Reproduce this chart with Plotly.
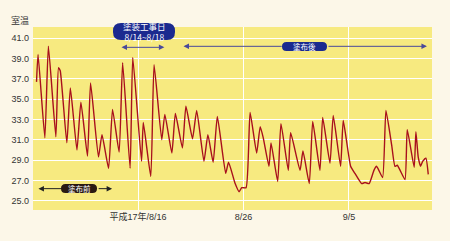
import plotly.graph_objects as go

# ---- data ----
times = [
    "2005-08-06 09:00", "2005-08-06 12:30", "2005-08-07 04:00", "2005-08-07 12:00",
    "2005-08-08 05:00", "2005-08-08 11:00", "2005-08-08 15:00", "2005-08-09 06:00",
    "2005-08-09 14:00", "2005-08-10 05:00", "2005-08-10 14:00", "2005-08-11 05:00",
    "2005-08-11 12:00", "2005-08-12 06:00", "2005-08-12 14:00", "2005-08-13 05:00",
    "2005-08-13 14:00", "2005-08-14 05:00", "2005-08-14 13:00", "2005-08-15 06:00",
    "2005-08-15 12:00", "2005-08-16 08:00", "2005-08-16 12:00", "2005-08-17 05:00",
    "2005-08-17 12:30", "2005-08-18 06:00", "2005-08-18 13:00", "2005-08-19 05:00",
    "2005-08-19 13:00", "2005-08-20 05:00", "2005-08-20 13:00", "2005-08-21 04:00",
    "2005-08-21 13:30", "2005-08-22 06:00", "2005-08-22 15:00", "2005-08-23 03:00",
    "2005-08-23 12:30", "2005-08-24 07:30", "2005-08-24 14:00", "2005-08-25 05:00",
    "2005-08-25 14:00", "2005-08-25 20:00", "2005-08-26 06:00", "2005-08-26 15:00",
    "2005-08-27 06:00", "2005-08-27 14:00", "2005-08-27 21:00", "2005-08-28 10:00",
    "2005-08-28 14:40", "2005-08-29 05:50", "2005-08-29 13:15", "2005-08-30 06:00",
    "2005-08-30 11:20", "2005-08-31 08:40", "2005-08-31 15:20", "2005-09-01 05:45",
    "2005-09-01 13:30", "2005-09-02 06:00", "2005-09-02 12:15", "2005-09-03 04:50",
    "2005-09-03 12:15", "2005-09-04 05:00", "2005-09-04 11:00", "2005-09-05 03:50",
    "2005-09-05 13:40", "2005-09-06 04:50", "2005-09-06 12:30", "2005-09-06 22:00",
    "2005-09-07 08:50", "2005-09-07 14:50", "2005-09-08 04:36", "2005-09-08 12:10",
    "2005-09-09 01:10", "2005-09-09 08:40", "2005-09-09 14:00", "2005-09-10 07:30",
    "2005-09-10 12:40", "2005-09-11 04:30", "2005-09-11 08:20", "2005-09-11 13:40",
    "2005-09-11 19:00", "2005-09-12 00:00", "2005-09-12 07:10", "2005-09-12 12:30",
]
temps = [
    36.7, 39.4, 31.2, 40.2,
    31.3, 38.1, 37.8, 30.7,
    36.1, 30.0, 34.7, 29.4,
    36.6, 29.3, 31.5, 28.2,
    34.0, 29.8, 38.6, 28.2,
    39.1, 28.9, 32.7, 27.4,
    38.4, 31.0, 33.5, 29.7,
    33.6, 30.2, 34.3, 31.1,
    33.9, 28.9, 31.5, 28.8,
    33.3, 27.7, 28.8, 26.7,
    25.9, 26.3, 26.3, 33.7,
    29.7, 32.3, 31.2, 28.4,
    30.7, 26.9, 32.6, 28.0,
    31.7, 28.0, 29.9, 26.7,
    32.8, 28.0, 33.2, 28.7,
    33.4, 28.4, 32.9, 28.4,
    27.7, 26.7, 26.8, 26.7,
    28.0, 28.4, 27.3, 33.9,
    30.5, 28.4, 28.5, 27.1,
    32.0, 28.3, 31.8, 29.3,
    28.4, 28.9, 29.2, 27.6,
]
x_tick_vals = ["2005-08-16", "2005-08-26", "2005-09-05"]
x_tick_text = ["平成17年/8/16", "8/26", "9/5"]
y_tick_vals = [25, 27, 29, 31, 33, 35, 37, 39, 41]

# ---- layout geometry (pixels) ----
W, H = 450, 241
ML, MR, MT, MB = 33, 18, 27, 31
PW, PH = W - ML - MR, H - MT - MB

def px(x):
    return (x - ML) / PW

def py(y):
    return (H - MB - y) / PH

def pill(L, R, T, B, r=None):
    if r is None:
        r = (B - T) / 2
    pts = [
        ("M", [(L + r, T)]), ("L", [(R - r, T)]),
        ("Q", [(R, T), (R, T + r)]), ("L", [(R, B - r)]),
        ("Q", [(R, B), (R - r, B)]), ("L", [(L + r, B)]),
        ("Q", [(L, B), (L, B - r)]), ("L", [(L, T + r)]),
        ("Q", [(L, T), (L + r, T)]),
    ]
    s = ""
    for cmd, ps in pts:
        s += cmd + " " + " ".join(f"{px(a):.5f},{py(b):.5f}" for a, b in ps) + " "
    return s + "Z"

FONT = "Liberation Sans, Arial, Noto Sans CJK JP, sans-serif"
JFONT = "Noto Sans CJK JP, sans-serif"
NAVY = "#1b2a8f"

fig = go.Figure()
fig.add_trace(go.Scatter(
    x=times, y=temps, mode="lines",
    line=dict(color="#a8101c", width=1.4, shape="spline", smoothing=0.45),
    hoverinfo="skip", showlegend=False,
))

shapes = [
    dict(type="path", xref="paper", yref="paper", path=pill(113, 175, 23, 40, r=8),
         fillcolor=NAVY, line=dict(color=NAVY, width=0), layer="above"),
    dict(type="path", xref="paper", yref="paper", path=pill(282, 327, 42, 51),
         fillcolor=NAVY, line=dict(color=NAVY, width=0), layer="above"),
    dict(type="path", xref="paper", yref="paper", path=pill(61, 97, 184, 193),
         fillcolor="#2a1a12", line=dict(color="#2a1a12", width=0), layer="above"),
]

arrow_color = "#4a4a9a"

def harrow(x0, x1, y, color, start=True, end=True):
    side = "+".join(s for s, f in (("start", start), ("end", end)) if f)
    return dict(x=x1, y=y, ax=x0, ay=y, xref="x", yref="y", axref="x", ayref="y",
                text="", showarrow=True, arrowhead=2, startarrowhead=2,
                arrowside=side, arrowsize=1.1, startarrowsize=1.1,
                arrowwidth=1, arrowcolor=color)

annotations = [
    dict(text="室温", xref="paper", yref="paper", x=px(20), y=py(21),
         xanchor="center", yanchor="middle",
         showarrow=False, font=dict(family=JFONT, size=9, color="#333333")),
    dict(text="塗装工事日<br>8/14~8/18", xref="paper", yref="paper", x=px(144), y=py(31.5),
         showarrow=False, font=dict(family=JFONT, size=8.5, color="white"),
         xanchor="center", yanchor="middle"),
    dict(text="塗布後", xref="paper", yref="paper", x=px(304.5), y=py(46.5),
         xanchor="center", yanchor="middle",
         showarrow=False, font=dict(family=JFONT, size=7.5, color="white")),
    dict(text="塗布前", xref="paper", yref="paper", x=px(79), y=py(188.5),
         xanchor="center", yanchor="middle",
         showarrow=False, font=dict(family=JFONT, size=7.5, color="white")),
    harrow("2005-08-14 07:00", "2005-08-18 12:00", 40.1, arrow_color),
    harrow("2005-08-20 04:00", "2005-08-29 15:00", 40.2, arrow_color, end=False),
    harrow("2005-09-02 22:00", "2005-09-12 09:30", 40.2, arrow_color, start=False),
    harrow("2005-08-06 10:00", "2005-08-08 17:00", 26.2, "#222222", end=False),
    harrow("2005-08-12 03:00", "2005-08-13 13:00", 26.2, "#222222", start=False),
]

fig.update_layout(
    width=W, height=H,
    margin=dict(l=ML, r=MR, t=MT, b=MB, pad=0),
    paper_bgcolor="#fcf7e8",
    plot_bgcolor="#f7ea80",
    font=dict(family=FONT, size=9, color="#333333"),
    shapes=shapes,
    annotations=annotations,
    xaxis=dict(
        range=["2005-08-06 01:00", "2005-09-12 21:00"],
        tickvals=x_tick_vals, ticktext=x_tick_text,
        tickfont=dict(family=FONT, size=9, color="#333333"),
        showgrid=True, gridcolor="white", gridwidth=1,
        zeroline=False, showline=False, ticks="",
    ),
    yaxis=dict(
        range=[24.1, 42.1],
        tickvals=y_tick_vals, tickformat=".1f",
        tickfont=dict(family=FONT, size=9, color="#333333"),
        showgrid=True, gridcolor="white", gridwidth=1,
        zeroline=False, showline=False, ticks="",
        ticklabelstandoff=3,
    ),
)

fig.write_html("out.html")
